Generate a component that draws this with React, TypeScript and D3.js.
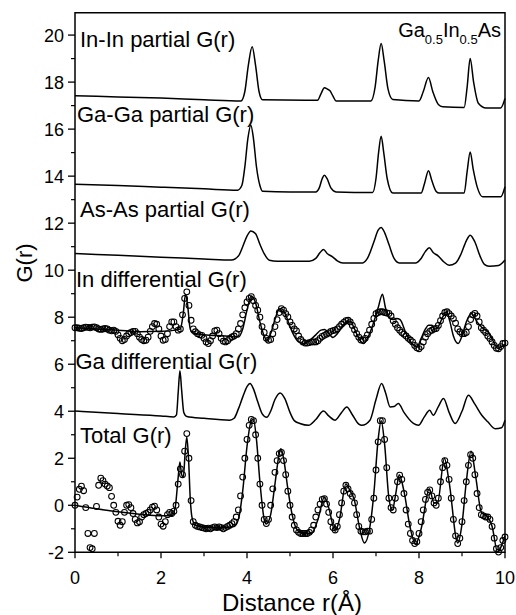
import React from "react";
import * as d3 from "d3";

type Pt = [number, number];

// ---- experimental (circle) data: r = i * EXP_STEP ----
const EXP_STEP = 0.05;
const totalExp: number[] = [
  0.0, 0.35, 0.68, 0.81, 0.62, -0.1, -1.2, -1.8, -1.85, -1.2,
  -0.05, 0.85, 1.15, 1.05, 0.9, 0.82, 0.75, 0.38, 0.0, -0.3,
  -0.68, -0.85, -0.7, -0.3, 0.0, 0.03, -0.1, -0.35, -0.6, -0.75,
  -0.7, -0.5, -0.4, -0.35, -0.3, -0.2, -0.08, -0.04, -0.2, -0.5,
  -0.8, -0.89, -0.7, -0.4, -0.3, -0.35, -0.25, 0.0, 0.9, 1.55,
  1.3, 2.3, 3.05, 2.0, 0.2, -0.7, -0.85, -0.9, -0.92, -0.95,
  -0.97, -1.0, -0.97, -1.0, -0.95, -0.92, -0.95, -0.92, -0.95, -1.0,
  -0.95, -0.9, -0.85, -0.78, -0.7, -0.5, -0.2, 0.4, 1.2, 2.0,
  2.8, 3.4, 3.65, 3.6, 3.0, 2.0, 0.9, 0.0, -0.6, -0.78,
  -0.6, 0.0, 0.7, 1.4, 1.9, 2.2, 2.25, 1.9, 1.3, 0.6,
  0.0, -0.5, -0.85, -1.05, -1.15, -1.2, -1.2, -1.2, -1.2, -1.15,
  -1.05, -0.85, -0.5, -0.2, 0.05, 0.25, 0.28, 0.05, -0.3, -0.7,
  -0.95, -1.05, -0.9, -0.4, 0.1, 0.6, 0.85, 0.7, 0.5, 0.38,
  0.1, -0.4, -0.9, -1.1, -1.13, -1.13, -1.1, -1.1, -0.6, 0.3,
  1.5, 2.7, 3.6, 3.6, 2.8, 1.6, 0.3, -0.1, -0.2, 0.3,
  1.0, 1.28, 1.1, 0.5, -0.2, -0.8, -1.2, -1.5, -1.63, -1.55,
  -1.2, -0.7, -0.2, 0.25, 0.55, 0.65, 0.4, 0.1, 0.0, 0.3,
  1.0, 1.6, 1.9, 1.7, 1.1, 0.3, -0.6, -1.3, -1.63, -1.4,
  -0.7, 0.2, 1.0, 1.7, 2.15, 2.0, 1.3, 0.5, -0.1, -0.4,
  -0.45, -0.5, -0.5, -0.6, -0.9, -1.4, -1.85, -1.99, -1.8, -1.5,
  -1.35,
];
const inDiffExp: number[] = [
  7.55, 7.55, 7.53, 7.52, 7.55, 7.58, 7.57, 7.55, 7.58, 7.59,
  7.55, 7.5, 7.48, 7.5, 7.52, 7.5, 7.45, 7.42, 7.45, 7.4,
  7.25, 7.1, 7.0, 7.05, 7.2, 7.3, 7.35, 7.4, 7.4, 7.3,
  7.15, 7.05, 7.0, 7.02, 7.15, 7.4, 7.6, 7.73, 7.7, 7.5,
  7.2, 7.02, 7.05, 7.3, 7.6, 7.8, 7.8, 7.6, 7.45, 7.5,
  8.1, 8.8, 9.08, 8.5, 7.87, 7.5, 7.38, 7.3, 7.25, 7.23,
  7.1, 6.95, 6.88, 7.0, 7.2, 7.42, 7.45, 7.3, 7.1, 6.98,
  6.95, 7.0, 7.1, 7.16, 7.2, 7.3, 7.5, 7.73, 8.1, 8.4,
  8.65, 8.8, 8.87, 8.7, 8.5, 8.3, 8.0, 7.6, 7.35, 7.1,
  7.02, 7.05, 7.3, 7.6, 7.9, 8.2, 8.36, 8.3, 8.15, 8.01,
  7.8, 7.65, 7.5, 7.42, 7.2, 7.05, 6.95, 6.9, 6.9, 6.92,
  6.95, 6.95, 6.95, 7.0, 7.1, 7.18, 7.23, 7.28, 7.33, 7.4,
  7.43, 7.45, 7.5, 7.6, 7.7, 7.78, 7.85, 7.87, 7.8, 7.65,
  7.47, 7.3, 7.15, 7.03, 7.02, 7.1, 7.25, 7.45, 7.7, 7.95,
  8.15, 8.2, 8.23, 8.23, 8.2, 8.18, 8.16, 8.05, 7.85, 7.7,
  7.55, 7.45, 7.35, 7.28, 7.2, 7.1, 7.03, 6.95, 6.8, 6.7,
  6.66, 6.75, 6.95, 7.15, 7.3, 7.4, 7.45, 7.5, 7.52, 7.65,
  7.85, 8.05, 8.2, 8.23, 8.15, 8.05, 7.94, 7.75, 7.5, 7.38,
  7.3, 7.3, 7.35, 7.6, 7.9, 8.1, 8.16, 8.05, 7.8, 7.55,
  7.45, 7.35, 7.2, 7.09, 6.95, 6.8, 6.68, 6.66, 6.75, 6.88,
  6.9,
];

// ---- model / partial curves: [r, G] ----
const inInPartial: Pt[] = [
  [0, 17.42], [1, 17.37], [2, 17.32], [3, 17.25], [3.86, 17.2], [3.95, 17.6], [4.03, 18.7], [4.12, 19.5],
  [4.2, 18.7], [4.28, 17.6], [4.36, 17.25], [5.64, 17.23], [5.72, 17.5], [5.8, 17.76], [5.87, 17.7],
  [5.93, 17.63], [6.0, 17.4], [6.07, 17.2], [6.88, 17.2], [6.98, 17.8], [7.05, 18.9], [7.12, 19.64],
  [7.19, 18.9], [7.28, 17.7], [7.39, 17.26], [8.0, 17.2], [8.1, 17.6], [8.22, 18.2], [8.32, 17.6],
  [8.45, 17.05], [8.55, 16.95], [9.05, 16.92], [9.12, 17.8], [9.19, 19.0], [9.27, 18.0], [9.38, 17.1],
  [9.56, 16.9], [9.9, 16.9], [10, 17.3],
];
const gaGaPartial: Pt[] = [
  [0, 13.66], [1, 13.6], [2, 13.53], [3, 13.46], [3.78, 13.4], [3.88, 13.6], [3.95, 14.4], [4.02, 15.6],
  [4.09, 16.17], [4.15, 15.6], [4.22, 14.4], [4.3, 13.6], [4.36, 13.36], [5.0, 13.33], [5.6, 13.33],
  [5.68, 13.5], [5.75, 13.9], [5.8, 14.04], [5.86, 13.9], [5.95, 13.5], [6.07, 13.33], [6.92, 13.3],
  [7.0, 13.9], [7.06, 15.0], [7.12, 15.7], [7.18, 15.0], [7.26, 13.9], [7.39, 13.28], [8.05, 13.28],
  [8.13, 13.7], [8.22, 14.23], [8.3, 13.8], [8.4, 13.35], [8.47, 13.28], [9.05, 13.28], [9.12, 14.2],
  [9.19, 15.03], [9.26, 14.3], [9.36, 13.5], [9.48, 13.12], [9.9, 13.12], [10, 13.55],
];
const asAsPartial: Pt[] = [
  [0, 10.71], [1, 10.63], [2, 10.55], [3, 10.48], [3.64, 10.43], [3.8, 10.6], [3.9, 11.0], [4.0, 11.45],
  [4.09, 11.67], [4.2, 11.55], [4.3, 11.1], [4.4, 10.7], [4.52, 10.42], [4.7, 10.38], [5.45, 10.38],
  [5.6, 10.5], [5.7, 10.75], [5.78, 10.88], [5.87, 10.7], [5.99, 10.57], [6.1, 10.4], [6.23, 10.31],
  [6.69, 10.31], [6.8, 10.5], [6.95, 11.2], [7.05, 11.7], [7.12, 11.82], [7.2, 11.6], [7.3, 11.1],
  [7.42, 10.5], [7.54, 10.31], [7.93, 10.31], [8.05, 10.5], [8.15, 10.8], [8.24, 10.95], [8.33, 10.75],
  [8.45, 10.6], [8.58, 10.35], [8.7, 10.21], [8.85, 10.3], [8.98, 10.7], [9.1, 11.25], [9.19, 11.49],
  [9.3, 11.2], [9.42, 10.6], [9.52, 10.25], [9.63, 10.17], [9.85, 10.2], [10, 10.43],
];
const inDiffModel: Pt[] = [
  [0, 7.55], [0.5, 7.5], [1, 7.45], [1.5, 7.38], [2, 7.4], [2.35, 7.45], [2.45, 7.5], [2.52, 8.2],
  [2.57, 8.98], [2.62, 8.5], [2.67, 7.6], [2.72, 7.35], [3, 7.25], [3.5, 7.2], [3.8, 7.16], [3.9, 7.5],
  [4.0, 8.3], [4.1, 8.9], [4.2, 8.6], [4.3, 7.8], [4.4, 7.2], [4.46, 7.02], [4.55, 7.3], [4.65, 7.9],
  [4.75, 8.35], [4.8, 8.37], [4.9, 8.1], [5.0, 7.6], [5.1, 7.2], [5.2, 6.95], [5.31, 6.88], [5.45, 7.0],
  [5.6, 7.25], [5.72, 7.45], [5.81, 7.48], [5.9, 7.3], [6.0, 7.14], [6.1, 7.3], [6.25, 7.7], [6.4, 7.84],
  [6.5, 7.5], [6.6, 7.1], [6.71, 6.88], [6.8, 7.1], [6.95, 7.8], [7.05, 8.4], [7.15, 8.98], [7.22, 8.4],
  [7.3, 8.01], [7.4, 7.9], [7.48, 7.95], [7.56, 7.9], [7.7, 7.3], [7.85, 6.85], [7.95, 6.74], [8.05, 7.1],
  [8.15, 7.5], [8.22, 7.66], [8.3, 7.66], [8.38, 7.5], [8.45, 7.6], [8.55, 8.0], [8.64, 8.23], [8.72, 7.8],
  [8.8, 7.2], [8.91, 6.88], [9.0, 7.2], [9.1, 7.8], [9.22, 8.16], [9.35, 7.8], [9.5, 7.5], [9.61, 7.38],
  [9.72, 7.0], [9.84, 6.67], [9.92, 6.75], [10, 6.84],
];
const gaDiffModel: Pt[] = [
  [0, 4.01], [1, 3.9], [2, 3.8], [2.3, 3.76], [2.36, 3.85], [2.4, 4.8], [2.44, 5.72], [2.48, 4.9],
  [2.53, 3.95], [2.6, 3.78], [3, 3.7], [3.6, 3.62], [3.7, 3.7], [3.8, 4.1], [3.9, 4.6], [4.0, 5.05],
  [4.07, 5.18], [4.15, 4.95], [4.25, 4.4], [4.35, 3.9], [4.46, 3.74], [4.55, 4.0], [4.65, 4.5],
  [4.77, 4.78], [4.88, 4.54], [5.0, 3.95], [5.1, 3.6], [5.23, 3.48], [5.43, 3.4], [5.6, 3.65],
  [5.78, 4.01], [5.9, 3.8], [6.05, 3.62], [6.2, 3.95], [6.32, 4.18], [6.45, 3.85], [6.6, 3.45],
  [6.67, 3.4], [6.86, 3.62], [7.0, 4.5], [7.13, 5.18], [7.22, 4.8], [7.33, 4.18], [7.42, 4.2],
  [7.52, 4.33], [7.65, 3.95], [7.87, 3.48], [7.99, 3.4], [8.12, 3.75], [8.25, 4.04], [8.33, 3.83],
  [8.45, 4.2], [8.57, 4.54], [8.7, 3.95], [8.84, 3.48], [9.0, 4.0], [9.15, 4.68], [9.3, 4.3],
  [9.46, 3.83], [9.6, 3.55], [9.77, 3.26], [9.92, 3.3], [10, 3.62],
];
const totalModel: Pt[] = [
  [0, 0], [0.5, -0.15], [1, -0.28], [1.5, -0.38], [2, -0.45], [2.25, -0.45], [2.33, -0.1], [2.4, 1.2],
  [2.44, 1.84], [2.48, 1.3], [2.52, 1.2], [2.56, 2.2], [2.6, 2.9], [2.64, 2.0], [2.68, 0.3], [2.72, -0.5],
  [2.8, -0.85], [3.0, -0.92], [3.4, -0.95], [3.7, -0.9], [3.8, -0.6], [3.9, 0.6], [4.0, 2.5], [4.1, 3.6],
  [4.15, 3.65], [4.22, 2.8], [4.3, 1.0], [4.4, -0.6], [4.45, -0.8], [4.55, -0.4], [4.65, 0.9], [4.75, 2.2],
  [4.79, 2.4], [4.85, 2.0], [4.95, 0.7], [5.05, -0.4], [5.15, -1.0], [5.3, -1.2], [5.5, -1.2], [5.65, -0.6],
  [5.8, 0.35], [5.9, -0.1], [6.05, -1.1], [6.15, -0.6], [6.3, 0.9], [6.4, 0.6], [6.5, 0.2], [6.6, -0.8],
  [6.73, -1.6], [6.85, -1.0], [6.95, 0.5], [7.05, 2.8], [7.12, 3.6], [7.2, 2.6], [7.3, 0.3], [7.38, -0.2],
  [7.46, 0.5], [7.54, 1.3], [7.65, 0.6], [7.8, -1.0], [7.92, -1.65], [8.05, -1.0], [8.24, 0.7], [8.35, 0.1],
  [8.43, 0.1], [8.59, 2.0], [8.7, 1.0], [8.9, -1.6], [9.0, -0.8], [9.1, 1.0], [9.21, 2.3], [9.32, 1.2],
  [9.45, -0.3], [9.6, -0.5], [9.7, -0.9], [9.83, -2.0], [9.9, -1.8], [10, -1.3],
];

const xMajorTicks = [0, 2, 4, 6, 8, 10];
const xMinorTicks = [1, 3, 5, 7, 9];
const yMajorTicks = [-2, 0, 2, 4, 6, 8, 10, 12, 14, 16, 18, 20];
const yMinorTicks = [-1, 1, 3, 5, 7, 9, 11, 13, 15, 17, 19];

const curveLabels: { text: string; x: number; y: number }[] = [
  { text: "In-In partial G(r)", x: 80, y: 46.5 },
  { text: "Ga-Ga partial G(r)", x: 77, y: 122 },
  { text: "As-As partial G(r)", x: 80, y: 216.5 },
  { text: "In differential G(r)", x: 76, y: 286.5 },
  { text: "Ga differential G(r)", x: 75.5, y: 368.5 },
  { text: "Total G(r)", x: 80, y: 443 },
];

const FONT = "'Liberation Sans', Arial, Helvetica, sans-serif";

export default function App() {
  const W = 516, H = 615;
  const x = d3.scaleLinear().domain([0, 10]).range([75, 505]);
  const y = d3.scaleLinear().domain([-2, 20.95]).range([552.3, 12.75]);
  const line = d3
    .line<Pt>()
    .x((d) => x(d[0]))
    .y((d) => y(d[1]))
    .curve(d3.curveMonotoneX);

  const models = [inInPartial, gaGaPartial, asAsPartial, inDiffModel, gaDiffModel, totalModel];
  const exps = [inDiffExp, totalExp];

  const [x0, x1] = x.range();
  const [yb, yt] = y.range();

  return (
    <svg
      width={W}
      height={H}
      viewBox={`0 0 ${W} ${H}`}
      style={{ position: "absolute", left: 0, top: 0, background: "#fff" }}
      fontFamily={FONT}
    >
      <rect x={0} y={0} width={W} height={H} fill="#fff" />
      {/* circles (experimental) */}
      {exps.map((arr, k) => (
        <g key={"e" + k} fill="none" stroke="#000" strokeWidth={1.05}>
          {arr.map((v, i) => (
            <circle key={i} cx={x(i * EXP_STEP)} cy={y(v)} r={2.9} />
          ))}
        </g>
      ))}
      {/* lines */}
      {models.map((m, k) => (
        <path key={"m" + k} d={line(m) || ""} fill="none" stroke="#000" strokeWidth={1.5} strokeLinejoin="round" />
      ))}
      {/* frame */}
      <path
        d={`M${x0},${yt}H${x1}V${yb}H${x0}Z`}
        fill="none"
        stroke="#000"
        strokeWidth={1.5}
      />
      {/* x ticks */}
      {xMajorTicks.map((t) => (
        <g key={"xt" + t}>
          <line x1={x(t)} x2={x(t)} y1={yb} y2={yb + 6} stroke="#000" strokeWidth={1.3} />
          <text x={x(t)} y={583.5} textAnchor="middle" fontSize={18}>
            {t}
          </text>
        </g>
      ))}
      {xMinorTicks.map((t) => (
        <line key={"xm" + t} x1={x(t)} x2={x(t)} y1={yb} y2={yb + 4} stroke="#000" strokeWidth={1.2} />
      ))}
      {/* y ticks */}
      {yMajorTicks.map((t) => (
        <g key={"yt" + t}>
          <line x1={x0 - 7} x2={x0} y1={y(t)} y2={y(t)} stroke="#000" strokeWidth={1.3} />
          <text x={64} y={y(t)} dy="0.36em" textAnchor="end" fontSize={18}>
            {t}
          </text>
        </g>
      ))}
      {yMinorTicks.map((t) => (
        <line key={"ym" + t} x1={x0 - 4} x2={x0} y1={y(t)} y2={y(t)} stroke="#000" strokeWidth={1.2} />
      ))}
      {/* axis titles */}
      <text x={292} y={611} textAnchor="middle" fontSize={24}>
        Distance r(Å)
      </text>
      <text transform="translate(32,263) rotate(-90)" textAnchor="middle" fontSize={22}>
        G(r)
      </text>
      {/* curve labels */}
      {curveLabels.map((l) => (
        <text key={l.text} x={l.x} y={l.y} fontSize={22}>
          {l.text}
        </text>
      ))}
      <text x={501} y={37.3} textAnchor="end" fontSize={20}>
        Ga
        <tspan fontSize={13} dy={7}>0.5</tspan>
        <tspan dy={-7}>In</tspan>
        <tspan fontSize={13} dy={7}>0.5</tspan>
        <tspan dy={-7}>As</tspan>
      </text>
    </svg>
  );
}
